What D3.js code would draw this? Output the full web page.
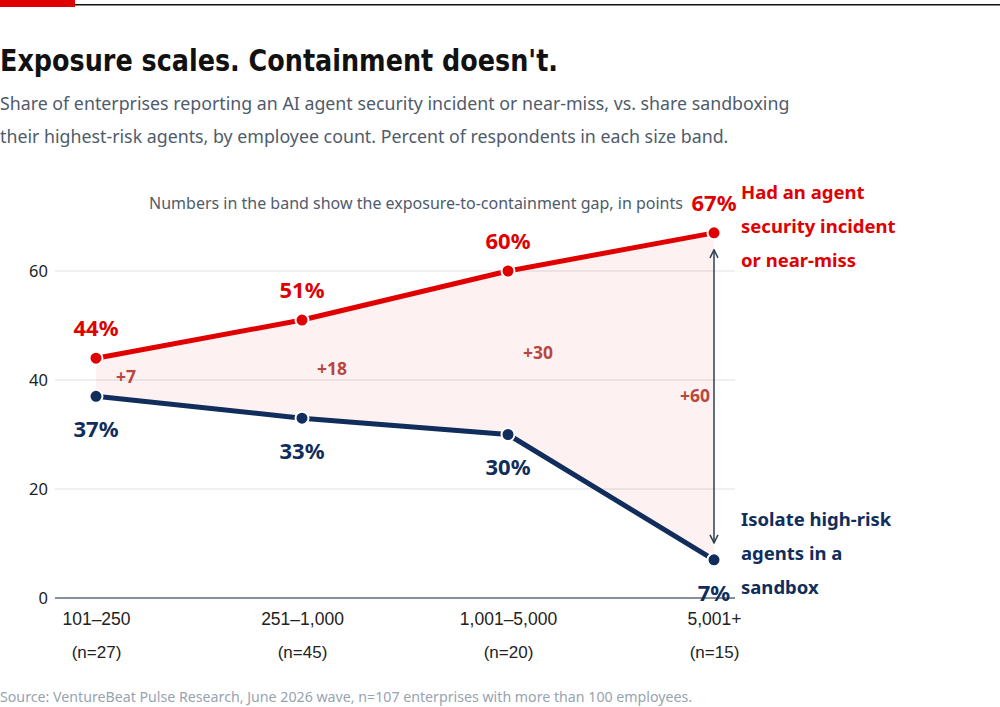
<!DOCTYPE html>
<html>
<head>
<meta charset="utf-8">
<script src="https://cdn.jsdelivr.net/npm/d3@7"></script>
<style>
  body { margin: 0; background: #fff; }
  svg { display: block; font-family: "Noto Sans", "IBM Plex Sans", sans-serif; }
</style>
</head>
<body>
<svg id="chart" width="1000" height="707"></svg>
<script>
// data
const bands = ['101\u2013250', '251\u20131,000', '1,001\u20135,000', '5,001+'];
const bandN = ['(n=27)', '(n=45)', '(n=20)', '(n=15)'];
const incident = [44, 51, 60, 67];
const sandbox = [37, 33, 30, 7];
const yTicks = [0, 20, 40, 60];
const incidentLabel = ['Had an agent', 'security incident', 'or near-miss'];
const sandboxLabel = ['Isolate high-risk', 'agents in a', 'sandbox'];

const red = '#e00000', navy = '#102d5c', gapCol = '#b8473f';

const svg = d3.select('#chart');

// top rule + red tab
svg.append('rect').attr('x', 0).attr('y', 4).attr('width', 1000).attr('height', 1.5).attr('fill', '#111');
svg.append('rect').attr('x', 0).attr('y', 0).attr('width', 75).attr('height', 7).attr('fill', red);

// titles
svg.append('text').attr('x', 0).attr('y', 71)
  .style('font-family', '"Liberation Sans Narrow", "DejaVu Sans Condensed", "Roboto", sans-serif')
  .style('font-size', '31px').style('font-weight', 700).attr('fill', '#111')
  .attr('textLength', 558).attr('lengthAdjust', 'spacingAndGlyphs')
  .text("Exposure scales. Containment doesn't.");

const sub = ['Share of enterprises reporting an AI agent security incident or near-miss, vs. share sandboxing',
  'their highest-risk agents, by employee count. Percent of respondents in each size band.'];
svg.selectAll('.sub').data(sub).enter().append('text')
  .attr('x', 0).attr('y', (d, i) => 110 + i * 33)
  .style('font-size', '17.8px').attr('fill', '#4f5b6b').text(d => d);

// scales
const x = d3.scalePoint().domain(bands).range([96, 714]);
const y = d3.scaleLinear().domain([0, 60]).range([598, 271]);

// grid
const grid = svg.append('g');
grid.selectAll('line').data(yTicks).enter().append('line')
  .attr('x1', 55).attr('x2', 735)
  .attr('y1', d => y(d)).attr('y2', d => y(d))
  .attr('stroke', d => d === 0 ? '#5d6b7a' : '#dde1e6')
  .attr('stroke-width', d => d === 0 ? 1.5 : 1);

const yAxis = d3.axisLeft(y).tickValues(yTicks).tickSize(0).tickPadding(0);
svg.append('g').attr('transform', 'translate(48,0)').call(yAxis)
  .call(g => g.select('.domain').remove())
  .selectAll('text').style('font-size', '16.5px').style('font-family', '"Noto Sans", sans-serif')
  .attr('fill', '#222').attr('dy', '0.35em');

// x labels
const xAxis = d3.axisBottom(x).tickSize(0).tickPadding(0);
const xg = svg.append('g').attr('transform', 'translate(0,619)').call(xAxis);
xg.select('.domain').remove();
xg.selectAll('text').remove();
xg.selectAll('.tick').each(function (d, i) {
  const t = d3.select(this);
  t.append('text').attr('y', 0).attr('dy', '0.35em').attr('text-anchor', 'middle')
    .style('font-size', '17.5px').attr('fill', '#222').text(d);
  t.append('text').attr('y', 33).attr('dy', '0.35em').attr('text-anchor', 'middle')
    .style('font-size', '17px').attr('fill', '#222').text(bandN[i]);
});

// band
const rows = bands.map((b, i) => ({b, hi: incident[i], lo: sandbox[i]}));
const area = d3.area().x(d => x(d.b)).y0(d => y(d.lo)).y1(d => y(d.hi));
svg.append('path').datum(rows).attr('d', area).attr('fill', 'rgba(224,0,0,0.055)');

// note
svg.append('text').attr('x', 416).attr('y', 203).attr('dy', '0.35em').attr('text-anchor', 'middle')
  .style('font-size', '16px').attr('fill', '#4f5b6b')
  .text('Numbers in the band show the exposure-to-containment gap, in points');

// gap arrow at last band
const last = rows[rows.length - 1];
const defs = svg.append('defs');
defs.append('marker').attr('id', 'ah').attr('viewBox', '0 0 10 10').attr('refX', 9).attr('refY', 5)
  .attr('markerWidth', 10).attr('markerHeight', 10).attr('markerUnits', 'userSpaceOnUse')
  .attr('orient', 'auto-start-reverse')
  .append('path').attr('d', 'M1,1 L9,5 L1,9').attr('fill', 'none').attr('stroke', '#2d3e50').attr('stroke-width', 1.5);
svg.append('line').attr('x1', x(last.b)).attr('x2', x(last.b))
  .attr('y1', y(last.hi) + 17).attr('y2', y(last.lo) - 17)
  .attr('stroke', '#2d3e50').attr('stroke-width', 1.5)
  .attr('marker-start', 'url(#ah)').attr('marker-end', 'url(#ah)');

// gap labels
svg.selectAll('.gap').data(rows).enter().append('text')
  .attr('x', (d, i) => i === rows.length - 1 ? x(d.b) - 4 : x(d.b) + 30)
  .attr('y', d => y((d.hi + d.lo) / 2)).attr('dy', '0.35em')
  .attr('text-anchor', (d, i) => i === rows.length - 1 ? 'end' : 'middle')
  .style('font-size', '17.5px').style('font-weight', 700).attr('fill', gapCol)
  .text(d => '+' + (d.hi - d.lo));

// lines
const line = d3.line().x(d => x(d.b)).y(d => y(d.v));
const series = [
  {vals: incident, color: red, above: true, label: incidentLabel},
  {vals: sandbox, color: navy, above: false, label: sandboxLabel}
];
series.forEach(s => {
  const pts = bands.map((b, i) => ({b, v: s.vals[i]}));
  svg.append('path').datum(pts).attr('d', line).attr('fill', 'none')
    .attr('stroke', s.color).attr('stroke-width', 5).attr('stroke-linejoin', 'round');
  svg.selectAll(null).data(pts).enter().append('circle')
    .attr('cx', d => x(d.b)).attr('cy', d => y(d.v)).attr('r', 6.5)
    .attr('fill', s.color).attr('stroke', '#fff').attr('stroke-width', 2);
  svg.selectAll(null).data(pts).enter().append('text')
    .attr('x', d => x(d.b)).attr('y', d => y(d.v) + (s.above ? -30 : 33)).attr('dy', '0.35em')
    .attr('text-anchor', 'middle').style('font-size', '22px').style('font-weight', 700)
    .attr('fill', s.color).text(d => d.v + '%');
});

// series end labels
svg.selectAll('.lab1').data(incidentLabel).enter().append('text')
  .attr('x', 741).attr('y', (d, i) => 193 + i * 34).attr('dy', '0.35em')
  .style('font-size', '18.5px').style('font-weight', 700).attr('fill', red).text(d => d);
svg.selectAll('.lab2').data(sandboxLabel).enter().append('text')
  .attr('x', 741).attr('y', (d, i) => 520 + i * 34).attr('dy', '0.35em')
  .style('font-size', '18.5px').style('font-weight', 700).attr('fill', navy).text(d => d);

// source
svg.append('text').attr('x', 0).attr('y', 702)
  .style('font-size', '14.2px').attr('fill', '#98a3b0')
  .text('Source: VentureBeat Pulse Research, June 2026 wave, n=107 enterprises with more than 100 employees.');
</script>
</body>
</html>
